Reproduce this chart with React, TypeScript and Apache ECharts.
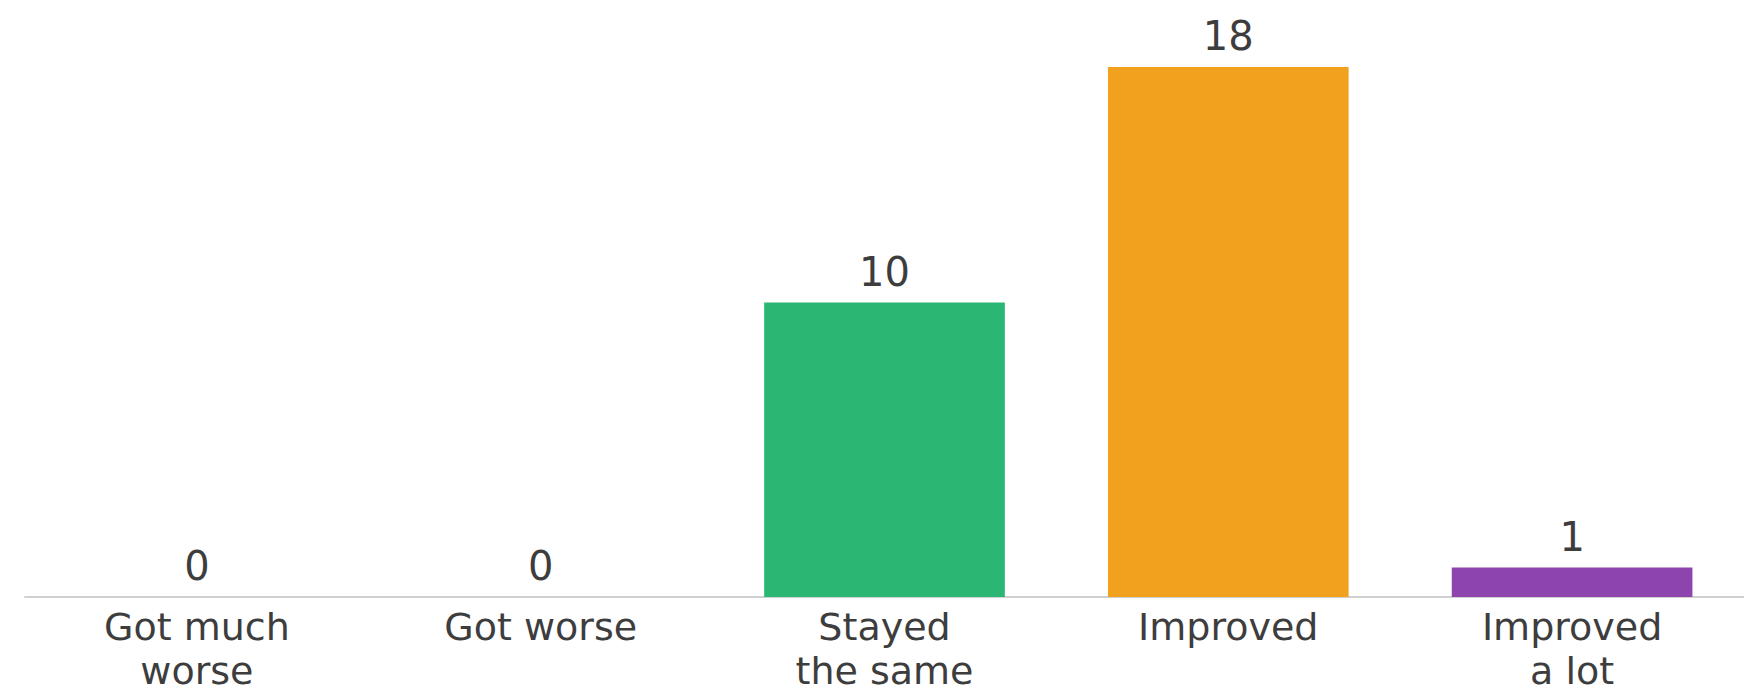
import React, { useEffect, useRef } from "react";
import * as echarts from "echarts";

const categories = ["Got much\nworse", "Got worse", "Stayed\nthe same", "Improved", "Improved\na lot"];
const counts = [0, 0, 10, 18, 1];
const barColors = ["#2bb673", "#2bb673", "#2bb673", "#f2a11f", "#8e44ad"];

const FONT = "DejaVu Sans";
const TEXT_COLOR = "#3d3d3d";

export default function App() {
  const ref = useRef<HTMLDivElement>(null);

  useEffect(() => {
    document.body.style.margin = "0";
    if (!ref.current) return;
    const chart = echarts.init(ref.current, undefined, { renderer: "svg" });
    chart.setOption({
      animation: false,
      backgroundColor: "#ffffff",
      grid: { left: 25, right: -5, top: 8, bottom: 97, containLabel: false },
      xAxis: {
        type: "category",
        data: categories,
        axisTick: { show: false },
        axisLine: { show: true, lineStyle: { color: "#d0d0d0", width: 2 } },
        axisLabel: {
          interval: 0,
          margin: 8,
          fontFamily: FONT,
          fontSize: 38,
          lineHeight: 44,
          color: TEXT_COLOR,
        },
      },
      yAxis: {
        type: "value",
        min: 0,
        max: 20,
        show: false,
        splitLine: { show: false },
      },
      series: [
        {
          type: "bar",
          barCategoryGap: "30%",
          data: counts.map((v, i) => ({ value: v, itemStyle: { color: barColors[i] } })),
          label: {
            show: true,
            position: "top",
            distance: 11,
            fontFamily: FONT,
            fontSize: 40,
            color: TEXT_COLOR,
          },
        },
      ],
    });
    return () => chart.dispose();
  }, []);

  return <div ref={ref} style={{ width: 1744, height: 694 }} />;
}
